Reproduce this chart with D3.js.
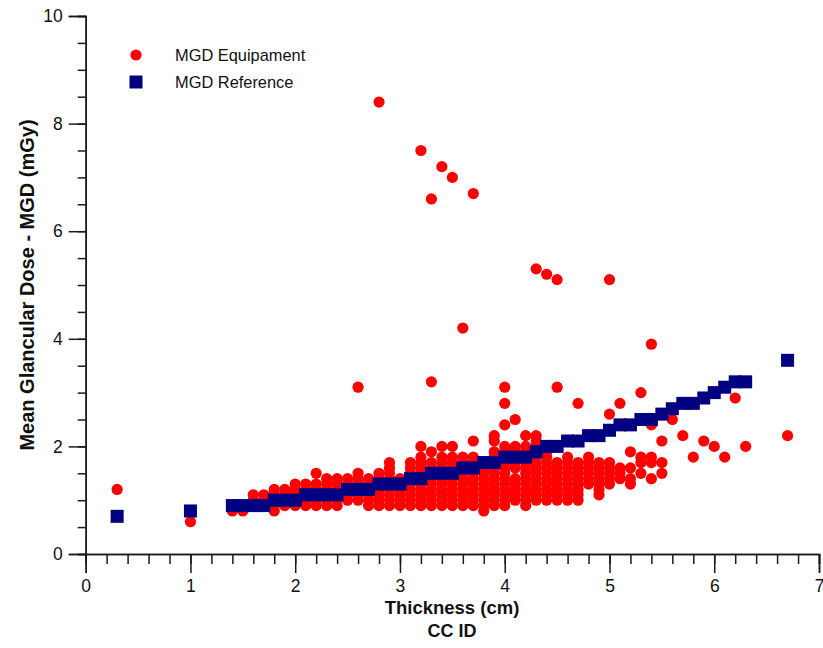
<!DOCTYPE html>
<html>
<head>
<meta charset="utf-8">
<script src="https://cdn.jsdelivr.net/npm/d3@7"></script>
<style>
  body { margin: 0; background: #fff; }
  text { font-family: "Liberation Sans", Arial, sans-serif; }
</style>
</head>
<body>
<div id="chart"></div>
<script>
// MGD Reference (blue squares)
var refThickness = [0.3, 1.0, 1.4, 1.5, 1.6, 1.7, 1.8, 1.9, 2.0, 2.1, 2.2, 2.3, 2.4, 2.5, 2.6, 2.7,
  2.8, 2.9, 3.0, 3.1, 3.2, 3.3, 3.4, 3.5, 3.6, 3.7, 3.8, 3.9, 4.0, 4.1, 4.2, 4.3, 4.4, 4.5,
  4.6, 4.7, 4.8, 4.9, 5.0, 5.1, 5.2, 5.3, 5.4, 5.5, 5.6, 5.7, 5.8, 5.9, 6.0, 6.1, 6.2, 6.3, 6.7];
var refDose = [0.7, 0.8, 0.9, 0.9, 0.9, 0.9, 1.0, 1.0, 1.0, 1.1, 1.1, 1.1, 1.1, 1.2, 1.2, 1.2,
  1.3, 1.3, 1.3, 1.4, 1.4, 1.5, 1.5, 1.5, 1.6, 1.6, 1.7, 1.7, 1.8, 1.8, 1.8, 1.9, 2.0, 2.0,
  2.1, 2.1, 2.2, 2.2, 2.3, 2.4, 2.4, 2.5, 2.5, 2.6, 2.7, 2.8, 2.8, 2.9, 3.0, 3.1, 3.2, 3.2, 3.6];

// MGD Equipament (red dots), one column of doses per thickness
var equipThickness = [0.3, 1.0, 1.4, 1.5, 1.6, 1.7, 1.8, 1.9, 2.0, 2.1, 2.2, 2.3, 2.4, 2.5, 2.6,
  2.7, 2.8, 2.9, 3.0, 3.1, 3.2, 3.3, 3.4, 3.5, 3.6, 3.7, 3.8, 3.9, 4.0, 4.1, 4.2, 4.3, 4.4,
  4.5, 4.6, 4.7, 4.8, 4.9, 5.0, 5.1, 5.2, 5.3, 5.4, 5.5, 5.6, 5.7, 5.8, 5.9, 6.0, 6.1, 6.2,
  6.3, 6.7];
var equipDoses = [
  [1.2],
  [0.6],
  [0.8, 0.9],
  [0.8, 0.9],
  [0.9, 1.0, 1.1],
  [0.9, 1.0, 1.1],
  [0.8, 0.9, 1.0, 1.1, 1.2],
  [0.9, 1.0, 1.1, 1.2],
  [0.9, 1.0, 1.1, 1.2, 1.3],
  [0.9, 1.0, 1.1, 1.2, 1.3],
  [0.9, 1.0, 1.1, 1.2, 1.3, 1.5],
  [0.9, 1.0, 1.1, 1.2, 1.3, 1.4],
  [0.9, 1.0, 1.1, 1.2, 1.3, 1.4],
  [1.0, 1.1, 1.2, 1.3, 1.4],
  [1.0, 1.1, 1.2, 1.3, 1.4, 1.5, 3.1],
  [0.9, 1.0, 1.1, 1.2, 1.3, 1.4],
  [0.9, 1.0, 1.1, 1.2, 1.3, 1.4, 1.5, 8.4],
  [0.9, 1.0, 1.1, 1.2, 1.3, 1.4, 1.5, 1.6, 1.7],
  [0.9, 1.0, 1.1, 1.2, 1.3, 1.4],
  [0.9, 1.0, 1.1, 1.2, 1.3, 1.4, 1.5, 1.6, 1.7],
  [0.9, 1.0, 1.1, 1.2, 1.3, 1.4, 1.5, 1.6, 1.7, 1.8, 2.0, 7.5],
  [0.9, 1.0, 1.1, 1.2, 1.3, 1.4, 1.5, 1.6, 1.7, 1.9, 3.2, 6.6],
  [0.9, 1.0, 1.1, 1.2, 1.3, 1.4, 1.5, 1.6, 1.7, 1.8, 2.0, 7.2],
  [0.9, 1.0, 1.1, 1.2, 1.3, 1.4, 1.6, 1.7, 1.8, 2.0, 7.0],
  [0.9, 1.0, 1.1, 1.2, 1.3, 1.4, 1.5, 1.6, 1.7, 1.8, 4.2],
  [0.9, 1.0, 1.1, 1.2, 1.3, 1.4, 1.5, 1.7, 1.8, 2.1, 6.7],
  [0.8, 0.9, 1.0, 1.1, 1.2, 1.3, 1.4, 1.5, 1.6],
  [0.9, 1.0, 1.1, 1.2, 1.3, 1.4, 1.5, 1.6, 1.8, 1.9, 2.1, 2.2],
  [0.9, 1.0, 1.1, 1.2, 1.3, 1.4, 1.5, 1.6, 1.7, 1.9, 2.0, 2.4, 2.8, 3.1],
  [1.0, 1.1, 1.2, 1.3, 1.4, 1.6, 1.7, 1.9, 2.0, 2.5],
  [0.9, 1.0, 1.1, 1.2, 1.3, 1.4, 1.5, 1.6, 1.7, 1.9, 2.0, 2.2],
  [1.0, 1.1, 1.2, 1.3, 1.4, 1.5, 1.6, 1.7, 1.8, 2.0, 2.1, 2.2, 5.3],
  [1.0, 1.1, 1.2, 1.3, 1.4, 1.5, 1.6, 1.7, 1.8, 1.9, 5.2],
  [1.0, 1.1, 1.2, 1.3, 1.4, 1.5, 1.6, 1.7, 3.1, 5.1],
  [1.0, 1.1, 1.2, 1.3, 1.4, 1.5, 1.6, 1.7, 1.8],
  [1.0, 1.1, 1.2, 1.3, 1.4, 1.5, 1.6, 1.7, 2.8],
  [1.3, 1.4, 1.5, 1.6, 1.7, 1.8],
  [1.1, 1.2, 1.3, 1.4, 1.5, 1.6, 1.7],
  [1.3, 1.4, 1.5, 1.6, 1.7, 2.6, 5.1],
  [1.4, 1.5, 1.6, 2.8],
  [1.3, 1.4, 1.6, 1.9],
  [1.5, 1.7, 1.8, 3.0],
  [1.4, 1.7, 1.8, 2.4, 3.9],
  [1.5, 1.7, 2.1],
  [2.5],
  [2.2],
  [1.8],
  [2.1],
  [2.0],
  [1.8],
  [2.9],
  [2.0],
  [2.2]
];

var xTicks = [0, 1, 2, 3, 4, 5, 6, 7];
var yTicks = [0, 2, 4, 6, 8, 10];
var legendLabels = ["MGD Equipament", "MGD Reference"];

var svgWidth = 823;
var svgHeight = 648;

var svg = d3.select("#chart")
  .append("svg")
  .attr("width", svgWidth)
  .attr("height", svgHeight);

var x = d3.scaleLinear().domain([0, 7]).range([85.7, 819]);
var y = d3.scaleLinear().domain([0, 10]).range([554, 16]);

var equipPoints = [];
equipThickness.forEach(function(t, i) {
  equipDoses[i].forEach(function(d) {
    equipPoints.push({ t: t, d: d });
  });
});
var refPoints = refThickness.map(function(t, i) { return { t: t, d: refDose[i] }; });

// axes: minor ticks first, then major ticks with labels
var axisColor = "#1a1a1a";

var xMinor = svg.append("g")
  .attr("transform", "translate(0,554)")
  .call(d3.axisBottom(x).tickValues(d3.range(0, 7.01, 0.2)).tickSize(10).tickFormat(""));
var xMajor = svg.append("g")
  .attr("transform", "translate(0,554)")
  .call(d3.axisBottom(x).tickValues(xTicks).tickSize(19).tickPadding(7).tickFormat(d3.format("d")));

var yMinor = svg.append("g")
  .attr("transform", "translate(85.7,0)")
  .call(d3.axisLeft(y).tickValues(d3.range(0, 10.01, 0.5)).tickSize(8).tickFormat(""));
var yMajor = svg.append("g")
  .attr("transform", "translate(85.7,0)")
  .call(d3.axisLeft(y).tickValues(yTicks).tickSize(17).tickPadding(6).tickFormat(d3.format("d")));

[xMinor, xMajor, yMinor, yMajor].forEach(function(g) {
  g.selectAll("path.domain").attr("stroke", axisColor).attr("stroke-width", 1.5);
  g.selectAll("line").attr("stroke", axisColor).attr("stroke-width", 1.5);
  g.selectAll("text").attr("fill", "#111").attr("font-size", 17.5)
    .style("font-family", "'Liberation Sans', Arial, sans-serif");
});

// equipment dots
svg.append("g")
  .selectAll("circle")
  .data(equipPoints)
  .enter()
  .append("circle")
  .attr("cx", function(p) { return x(p.t); })
  .attr("cy", function(p) { return y(p.d); })
  .attr("r", 5.6)
  .attr("fill", "#ff0000");

// reference squares on top
var sq = 13;
svg.append("g")
  .selectAll("rect")
  .data(refPoints)
  .enter()
  .append("rect")
  .attr("x", function(p) { return x(p.t) - sq / 2; })
  .attr("y", function(p) { return y(p.d) - sq / 2; })
  .attr("width", sq)
  .attr("height", sq)
  .attr("fill", "#000080");

// legend
var legend = svg.append("g");
legend.append("circle").attr("cx", 136).attr("cy", 55).attr("r", 5.6).attr("fill", "#ff0000");
legend.append("rect").attr("x", 136 - sq / 2).attr("y", 82 - sq / 2)
  .attr("width", sq).attr("height", sq).attr("fill", "#000080");
legend.selectAll("text.lbl")
  .data(legendLabels)
  .enter()
  .append("text")
  .attr("class", "lbl")
  .attr("x", 175)
  .attr("y", function(d, i) { return 55 + i * 27; })
  .attr("dy", "0.35em")
  .attr("font-size", 16.4)
  .attr("fill", "#111")
  .text(function(d) { return d; });

// axis titles
svg.append("text")
  .attr("x", 452)
  .attr("y", 614)
  .attr("text-anchor", "middle")
  .attr("font-size", 18.5)
  .attr("font-weight", "bold")
  .attr("fill", "#111")
  .text("Thickness (cm)");

svg.append("text")
  .attr("x", 452)
  .attr("y", 637)
  .attr("text-anchor", "middle")
  .attr("font-size", 18)
  .attr("font-weight", "bold")
  .attr("fill", "#111")
  .text("CC ID");

svg.append("text")
  .attr("transform", "translate(34,285) rotate(-90)")
  .attr("text-anchor", "middle")
  .attr("font-size", 20)
  .attr("font-weight", "bold")
  .attr("fill", "#111")
  .text("Mean Glancular Dose - MGD (mGy)");
</script>
</body>
</html>
